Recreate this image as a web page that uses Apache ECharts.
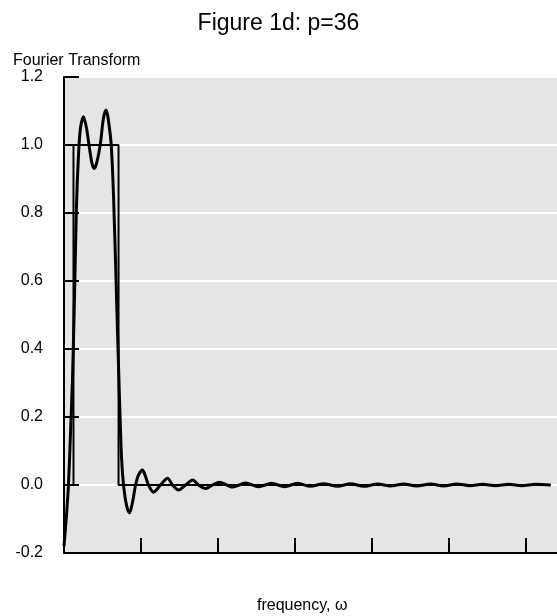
<!DOCTYPE html>
<html>
<head>
<meta charset="utf-8">
<script src="https://cdn.jsdelivr.net/npm/echarts@6/dist/echarts.min.js"></script>
<style>
html,body{margin:0;padding:0;background:#fff;}
#chart{width:557px;height:616px;}
</style>
</head>
<body>
<div id="chart"></div>
<script>
// Ideal band (rectangle) : [frequency, value]
const bandX = [0, 0.123, 0.123, 0.708, 0.708, 6.318];
const bandY = [0, 0, 1, 1, 0, 0];

// Truncated Fourier transform (p=36)
const ftX = [0.0, 0.032, 0.058, 0.084, 0.110, 0.136, 0.162, 0.188, 0.214, 0.253, 0.292, 0.331, 0.364, 0.392, 0.422, 0.470, 0.513, 0.548, 0.578, 0.613, 0.643, 0.682, 0.721, 0.747, 0.773, 0.812, 0.851, 0.890, 0.929, 0.968, 1.019, 1.058, 1.097, 1.162, 1.253, 1.344, 1.409, 1.487, 1.578, 1.669, 1.747, 1.838, 1.929, 2.019, 2.188, 2.357, 2.526, 2.695, 2.864, 3.032, 3.201, 3.370, 3.552, 3.721, 3.890, 4.071, 4.240, 4.409, 4.578, 4.760, 4.929, 5.097, 5.266, 5.435, 5.604, 5.773, 5.942, 6.123, 6.318];
const ftY = [-0.18, -0.09, 0.0, 0.15, 0.31, 0.55, 0.82, 0.97, 1.05, 1.083, 1.05, 0.99, 0.945, 0.931, 0.945, 1.0, 1.08, 1.103, 1.07, 1.0, 0.85, 0.55, 0.25, 0.08, 0.0, -0.06, -0.082, -0.05, 0.0, 0.03, 0.044, 0.025, 0.0, -0.021, 0.0, 0.020, 0.0, -0.015, 0.0, 0.015, 0.0, -0.010, 0.0, 0.008, -0.006, 0.006, -0.005, 0.005, -0.005, 0.005, -0.004, 0.004, -0.004, 0.004, -0.004, 0.003, -0.003, 0.003, -0.003, 0.003, -0.003, 0.003, -0.002, 0.002, -0.002, 0.002, -0.002, 0.002, 0.0];

const xTicks = [1, 2, 3, 4, 5, 6];
const yTicks = [-0.2, 0, 0.2, 0.4, 0.6, 0.8, 1.0, 1.2];

const titleText = 'Figure 1d: p=36';
const yName = 'Fourier Transform';
const xName = 'frequency, ω';

const zip = (xs, ys) => xs.map((x, i) => [x, ys[i]]);

const chart = echarts.init(document.getElementById('chart'), null, {renderer: 'canvas'});
const font = 'Liberation Sans, Arial, sans-serif';
chart.setOption({
  animation: false,
  backgroundColor: '#ffffff',
  title: {
    text: titleText, left: 'center', top: 12, padding: 0,
    textStyle: {fontFamily: font, fontSize: 23, fontWeight: 'normal', color: '#000'}
  },
  graphic: [
    {type: 'text', left: 13, top: 53, style: {text: yName, font: '16px ' + font, fill: '#000'}},
    {type: 'text', left: 257, top: 598, style: {text: xName, font: '16px ' + font, fill: '#000'}}
  ],
  grid: {left: 64, right: 0, top: 77, bottom: 63, show: true, backgroundColor: '#e5e5e5', borderWidth: 0},
  xAxis: {
    type: 'value', min: 0, max: 6.4, interval: 1,
    axisLine: {show: true, onZero: false, lineStyle: {color: '#000', width: 2}},
    axisTick: {show: true, inside: true, length: 15, customValues: xTicks, lineStyle: {color: '#000', width: 2}},
    axisLabel: {show: false},
    splitLine: {show: false}
  },
  yAxis: {
    type: 'value', min: -0.2, max: 1.2, interval: 0.2,
    axisLine: {show: true, onZero: false, lineStyle: {color: '#000', width: 2}},
    axisTick: {show: true, inside: true, length: 15, customValues: yTicks, lineStyle: {color: '#000', width: 2}},
    axisLabel: {
      show: true, customValues: yTicks, margin: 21,
      formatter: v => v.toFixed(1),
      fontFamily: font, fontSize: 16, color: '#000'
    },
    splitLine: {show: true, lineStyle: {color: '#ffffff', width: 2}}
  },
  series: [
    {type: 'line', data: zip(bandX, bandY), showSymbol: false, lineStyle: {color: '#000', width: 2}, z: 2},
    {type: 'line', data: zip(ftX, ftY), showSymbol: false, smooth: 0.3, lineStyle: {color: '#000', width: 3}, z: 3}
  ]
});
</script>
</body>
</html>
